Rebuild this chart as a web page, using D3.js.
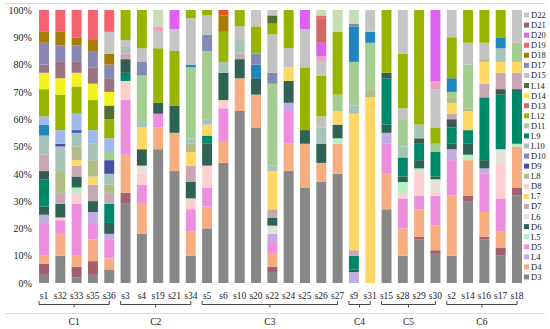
<!DOCTYPE html>
<html>
<head>
<meta charset="utf-8">
<script src="https://cdn.jsdelivr.net/npm/d3@7"></script>
<style>
  body { margin: 0; background: #fff; }
  svg text { font-family: "Liberation Serif", "Times New Roman", serif; fill: #222; }
</style>
</head>
<body>
<div id="chart"></div>
<script>
// samples along the x axis, left to right
const samples = ['s1','s32','s33','s35','s36','s3','s4','s19','s21','s34','s5','s6','s10','s20','s22','s24','s25','s26','s27','s9','s31','s15','s28','s29','s30','s2','s14','s16','s17','s18'];
// clusters and how many samples each one holds
const clusters = ['C1','C2','C3','C4','C5','C6'];
const clusterSizes = [5, 5, 9, 2, 4, 5];

// stacking order, bottom to top
const keys = ['D3','D21','D4','D5','L4','D8','L6','L5','D6','L9','L1','D7','L7','L8','L10','D9','D11','L3','D17','L2','D15','L12','L14','D14','D16','D10','D18','D22','L13','D20','D13','D19','D12','L11'];
const colors = ['#878787','#a25f6e','#f6ae80','#ec8fdf','#c3abe4','#fdd0cf','#e7e2d8','#b6efc5','#2e6252','#00886b','#385a50','#c9a8b6','#fed764','#b2bd86','#a6c4b8','#4551a8','#a3cd91','#1f86c0','#8289b5','#a0b9ea','#c2c2c2','#97b400','#556f2e','#f2f21e','#9a7482','#8a87b6','#a87c00','#c5c5c5','#eda2bd','#dd62ef','#d2685e','#f4636f','#e0561a','#c6ddb6'];
// legend entries, top to bottom
const legendKeys = ['D22','D21','D20','D19','D18','D17','D15','L14','D14','D13','L12','D11','L9','L10','D10','D9','L8','D8','L7','D7','L6','D6','L5','D5','L4','D4','D3'];
const yTicks = [0, 0.1, 0.2, 0.3, 0.4, 0.5, 0.6, 0.7, 0.8, 0.9, 1];

// relative abundance (%) per sample, one array per category
//           C1              C2                 C3                               C4      C5             C6
const D3  = [3,10,2,3,5,     29,18,49,41,10,    20,44,63,57,4,41,35,37,40,       0,0,    27,10,16,11,   10,30,16,10,32];
const D21 = [4,0,4,5,0,      4,0,0,0,0,         0,0,0,0,2,0,0,0,0,               0,0,    0,0,1,1,       0,2,1,3,3];
const D4  = [3,8,4,8,4,      14,11,8,14,9,      8,8,12,12,5,10,16,7,11,          0,0,    13,10,10,9,    22,13,9,6,15];
const D5  = [12,5,19,6,7,    20,7,5,0,8,        7,12,0,0,4,12,0,0,0,             0,0,    11,11,5,11,    13,0,14,12,0];
const L4  = [3,0,0,4,2,      0,0,0,0,0,         0,0,0,0,3,3,0,0,0,               4,0,    4,0,0,0,       4,0,2,0,0];
const D8  = [0,1,4,0,0,      7,4,0,0,4,         8,3,0,0,0,0,0,0,0,               0,0,    0,2,9,1,       0,0,0,13,0];
const L6  = [0,0,0,0,0,      0,3,0,0,0,         0,0,0,0,3,0,0,0,0,               0,0,    0,0,0,5,       0,0,0,5,0];
const L5  = [0,0,2,0,0,      0,0,0,0,0,         0,0,0,0,0,0,0,0,2,               0,0,    0,4,1,0,       0,2,0,0,1];
const D6  = [3,5,4,4,4,      0,6,4,10,6,        8,10,7,6,3,8,5,7,5,              1,0,    3,2,3,1,       2,4,3,0,0];
const L9  = [10,0,0,0,7,     3,0,0,0,0,         3,0,0,0,0,0,0,0,0,               5,0,    17,7,6,9,      6,5,23,20,19];
const L1  = [3,0,0,0,0,      5,0,0,0,0,         0,0,0,0,0,0,0,0,0,               0,0,    2,0,2,0,       3,0,0,2,1];
const D7  = [6,4,4,6,4,      2,0,0,0,6,         0,0,2,0,3,0,0,0,0,               2,0,    0,0,0,0,       2,0,5,6,6];
const L7  = [0,0,2,3,0,      0,8,0,0,5,         4,0,0,0,14,5,0,0,5,              50,68,  0,0,0,0,       4,7,8,4,4];
const L8  = [0,8,5,6,3,      0,0,0,0,3,         0,0,0,0,0,0,0,0,0,               0,3,    0,0,0,0,       2,1,1,0,0];
const L10 = [7,9,5,6,4,      3,2,0,0,2,         2,4,5,0,2,0,0,6,0,               3,0,    0,4,5,0,       0,0,0,5,0];
const D9  = [0,1,1,0,5,      0,0,0,0,0,         0,0,0,0,0,0,0,0,0,               0,0,    0,0,0,0,       0,0,0,0,0];
const D11 = [0,0,0,0,3,      0,17,0,0,26,       25,0,0,0,30,0,0,0,6,             16,17,  0,10,0,3,      2,16,0,0,7];
const L3  = [4,0,0,0,0,      0,0,0,0,1,         0,0,0,5,0,0,0,0,0,               13,4,   0,0,0,0,       5,0,0,4,0];
const D17 = [0,0,0,0,0,      0,5,0,0,0,         6,0,0,4,4,0,0,0,0,               1,0,    0,0,0,0,       0,0,0,0,0];
const L2  = [3,5,6,5,5,      0,0,0,0,0,         0,0,0,0,0,0,0,0,0,               0,0,    0,0,0,0,       0,0,0,0,0];
const D15 = [0,0,0,0,0,      2,5,0,0,17,        7,0,5,0,14,7,0,4,0,              0,0,    0,4,0,0,       0,8,6,0,0];
const L12 = [10,13,10,11,7,  11,14,20,20,3,     2,11,6,10,4,14,23,15,23,         0,0,    23,20,42,6,    15,12,12,10,0];
const L14 = [0,0,0,0,5,      0,0,0,0,0,         0,0,0,0,3,0,0,0,0,               0,0,    0,0,0,0,       0,0,0,0,0];
const D14 = [6,6,5,6,5,      0,0,0,0,0,         0,0,0,0,0,0,0,0,0,               0,0,    0,0,0,0,       0,0,0,0,0];
const D16 = [3,6,4,6,5,      0,0,0,0,0,         0,0,0,0,0,0,0,0,0,               0,0,    0,0,0,0,       0,0,0,0,0];
const D10 = [8,6,6,6,5,      0,0,0,0,0,         0,0,0,0,0,0,0,0,0,               0,0,    0,0,0,0,       0,0,0,0,0];
const D18 = [4,5,3,4,4,      0,0,0,0,0,         0,6,0,0,0,0,0,0,0,               0,0,    0,0,0,0,       0,0,0,0,0];
const D22 = [0,0,0,0,8,      0,0,6,8,0,         0,0,0,6,2,0,14,5,0,              0,8,    0,16,0,14,     10,0,0,0,12];
const L13 = [0,0,0,0,0,      0,0,2,0,0,         0,0,0,0,0,0,0,2,0,               0,0,    0,0,0,3,       0,0,0,0,0];
const D20 = [0,0,0,0,0,      0,0,0,7,0,         0,0,0,0,0,0,7,5,0,               0,0,    0,0,0,26,      0,0,0,0,0];
const D13 = [0,0,0,0,0,      0,0,0,0,0,         0,0,0,0,0,0,0,9,0,               0,0,    0,0,0,0,       0,0,0,0,0];
const D19 = [8,8,10,11,8,    0,0,0,0,0,         0,0,0,0,0,0,0,1,0,               0,0,    0,0,0,0,       0,0,0,0,0];
const D12 = [0,0,0,0,0,      0,0,0,0,0,         0,2,0,0,0,0,0,0,0,               0,0,    0,0,0,0,       0,0,0,0,0];
const L11 = [0,0,0,0,0,      0,0,6,0,0,         0,0,0,0,0,0,0,2,8,               5,0,    0,0,0,0,       0,0,0,0,0];

const shares = {D3, D21, D4, D5, L4, D8, L6, L5, D6, L9, L1, D7, L7, L8, L10, D9, D11, L3, D17, L2, D15, L12, L14, D14, D16, D10, D18, D22, L13, D20, D13, D19, D12, L11};

// one row per sample for d3.stack
const rows = samples.map((s, i) => {
  const row = { sample: s };
  keys.forEach(k => { row[k] = shares[k][i]; });
  return row;
});

// dimensions
const width = 550;
const height = 329;
const plotLeft = 35.85;
const plotRight = 525.15;
const plotTop = 10;
const plotBottom = 283;

// scales
const scaleX = d3.scaleBand()
  .domain(samples)
  .range([plotLeft, plotRight])
  .paddingInner(0.39)
  .paddingOuter(0.195);

const scaleY = d3.scaleLinear()
  .domain([0, 1])
  .range([plotBottom, plotTop]);

const scaleColor = d3.scaleOrdinal()
  .domain(keys)
  .range(colors);

const stacked = d3.stack()
  .keys(keys)
  .offset(d3.stackOffsetExpand)(rows);

const $svg = d3.select('#chart').append('svg')
  .attr('width', width)
  .attr('height', height);

$svg.append('rect')
  .attr('width', width)
  .attr('height', height)
  .attr('fill', '#fff');

// thin frame lines above and below the figure
$svg.selectAll('.frame')
  .data([3, 313])
  .enter()
  .append('line')
  .attr('class', 'frame')
  .attr('x1', 5)
  .attr('x2', 545)
  .attr('y1', d => d + 0.5)
  .attr('y2', d => d + 0.5)
  .attr('stroke', '#dcdcdc')
  .attr('stroke-width', 1);

// y axis, labels only
const $axisY = $svg.append('g')
  .attr('transform', `translate(${plotLeft - 3}, 0)`)
  .call(d3.axisLeft(scaleY)
    .tickValues(yTicks)
    .tickFormat(d3.format('.0%'))
    .tickSize(0)
    .tickPadding(1));
$axisY.select('.domain').remove();
$axisY.selectAll('text')
  .style('font-family', '"Liberation Serif", "Times New Roman", serif')
  .style('font-size', '10px')
  .attr('fill', '#222');

// stacked bars
const $layers = $svg.append('g')
  .selectAll('.layer')
  .data(stacked)
  .enter()
  .append('g')
  .attr('class', 'layer')
  .attr('fill', d => scaleColor(d.key));

$layers.selectAll('rect')
  .data(d => d.filter(p => p[1] - p[0] > 0))
  .enter()
  .append('rect')
  .attr('x', d => scaleX(d.data.sample))
  .attr('y', d => scaleY(d[1]))
  .attr('width', scaleX.bandwidth())
  .attr('height', d => scaleY(d[0]) - scaleY(d[1]));

// sample labels
$svg.append('g')
  .selectAll('text')
  .data(samples)
  .enter()
  .append('text')
  .attr('x', d => scaleX(d) + scaleX.bandwidth() / 2)
  .attr('y', 299)
  .attr('text-anchor', 'middle')
  .style('font-size', '9.5px')
  .text(d => d);

// cluster brackets
let start = 0;
const clusterSpans = clusters.map((c, i) => {
  const first = samples[start];
  const last = samples[start + clusterSizes[i] - 1];
  start += clusterSizes[i];
  return {
    name: c,
    x0: scaleX(first),
    x1: scaleX(last) + scaleX.bandwidth() / 2
  };
});

const $brackets = $svg.append('g')
  .selectAll('.bracket')
  .data(clusterSpans)
  .enter()
  .append('g')
  .attr('class', 'bracket');

$brackets.append('path')
  .attr('d', d => {
    const mid = (d.x0 + d.x1) / 2;
    return `M${d.x0},301 V304.5 H${d.x1} V301 M${mid},304.5 V307.5`;
  })
  .attr('fill', 'none')
  .attr('stroke', '#333')
  .attr('stroke-width', 0.9);

$brackets.append('text')
  .attr('x', d => (d.x0 + d.x1) / 2)
  .attr('y', 325)
  .attr('text-anchor', 'middle')
  .style('font-size', '9.5px')
  .text(d => d.name);

// legend
const scaleLegend = d3.scalePoint()
  .domain(legendKeys)
  .range([15, 277]);

const $legend = $svg.append('g')
  .selectAll('.legend-item')
  .data(legendKeys)
  .enter()
  .append('g')
  .attr('class', 'legend-item')
  .attr('transform', d => `translate(524, ${scaleLegend(d)})`);

$legend.append('rect')
  .attr('x', 0)
  .attr('y', -2.5)
  .attr('width', 5)
  .attr('height', 5)
  .attr('fill', d => scaleColor(d));

$legend.append('text')
  .attr('x', 7)
  .attr('y', 3)
  .style('font-size', '8.5px')
  .text(d => d);
</script>
</body>
</html>
